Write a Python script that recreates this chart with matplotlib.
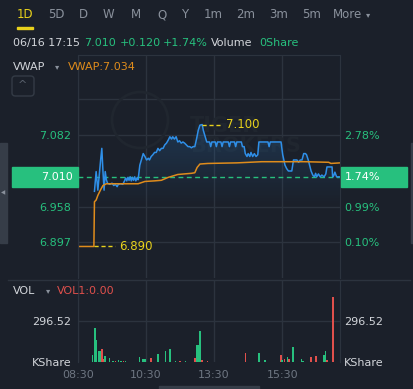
import matplotlib.pyplot as plt
import numpy as np
from matplotlib.patches import Rectangle, FancyBboxPatch, Polygon, Ellipse
from matplotlib.transforms import blended_transform_factory

# Colores del tema oscuro
fondo = '#1b202a'
rejilla = '#2c333e'
verde = '#27c07e'
rojo = '#e0504c'
azul = '#2f8fe8'
naranja = '#df8c1c'
amarillo = '#e8d11c'
gris = '#6e7682'
blanco = '#d3d6db'

# Datos (minutos desde las 08:30, con pausa de una hora al mediodía)
cierre_anterior = 6.890
precio_actual = 7.010
vwap_actual = 7.034
maximo = 7.100
minimo = 6.890

minutos_precio = [29, 32, 35, 38, 40, 42, 44, 46, 48, 50, 52, 56, 60, 63, 66, 69, 71, 75, 79, 82,
                  84, 86, 88, 90, 92, 94, 96, 98, 100, 102, 104, 106, 109, 112, 115, 118, 121, 124, 126, 129,
                  132, 135, 138, 141, 144, 147, 150, 153, 156, 159, 162, 165, 167, 170, 173, 176, 179, 182, 185, 188,
                  191, 194, 197, 200, 203, 206, 209, 212, 215, 219, 221, 224, 227, 232, 234, 236, 242, 244, 246, 252,
                  254, 256, 265, 267, 269, 276, 278, 280, 288, 290, 293, 295, 298, 300, 303, 305, 308, 311, 314, 317,
                  319, 335, 337, 339, 358, 361, 365, 368, 371, 377, 380, 386, 389, 392, 395, 398, 401, 403, 406, 411,
                  414, 417, 419, 421, 424, 427, 430, 434, 437, 439, 446, 448, 449, 451, 453, 456, 462]
precios = [6.985, 7.019, 6.987, 7.019, 7.040, 7.059, 7.020, 6.987, 7.019, 7.005, 6.999, 6.997, 6.999, 6.995, 6.997, 6.993, 6.997, 6.998, 6.997, 7.003,
           7.008, 7.003, 7.009, 7.004, 7.010, 7.003, 7.009, 7.004, 7.010, 7.003, 7.008, 7.005, 7.030, 7.040, 7.050, 7.045, 7.039, 7.042, 7.039, 7.045,
           7.048, 7.052, 7.052, 7.059, 7.055, 7.059, 7.059, 7.065, 7.068, 7.073, 7.079, 7.075, 7.079, 7.075, 7.079, 7.070, 7.072, 7.068, 7.070, 7.068,
           7.065, 7.062, 7.062, 7.060, 7.062, 7.062, 7.075, 7.090, 7.099, 7.100, 7.090, 7.080, 7.070, 7.070, 7.062, 7.070, 7.070, 7.062, 7.070, 7.070,
           7.062, 7.070, 7.070, 7.062, 7.070, 7.070, 7.062, 7.070, 7.070, 7.062, 7.062, 7.050, 7.045, 7.050, 7.045, 7.052, 7.045, 7.050, 7.045, 7.048,
           7.070, 7.070, 7.062, 7.070, 7.070, 7.048, 7.030, 7.024, 7.020, 7.020, 7.039, 7.039, 7.035, 7.039, 7.039, 7.050, 7.050, 7.048, 7.039, 7.020,
           7.013, 7.010, 7.016, 7.010, 7.015, 7.010, 7.013, 7.010, 7.015, 7.027, 7.027, 7.027, 7.010, 7.012, 7.018, 7.010, 7.010]

minutos_vwap = [0, 28, 29, 32, 35, 40, 44, 50, 106, 118, 135, 147, 159, 176, 200, 206, 210, 215, 229, 280,
                324, 400, 442, 446, 462]
vwap = [6.890, 6.890, 6.967, 6.970, 6.978, 6.988, 6.995, 6.998, 6.998, 7.002, 7.003, 7.004, 7.009, 7.014, 7.016, 7.017, 7.026, 7.032, 7.033, 7.034,
        7.036, 7.036, 7.035, 7.033, 7.034]

minutos_vol = [26, 30, 33, 36, 39, 42, 44, 48, 56, 62, 66, 71, 76, 80, 84, 108, 115, 118, 129, 141,
               154, 162, 172, 180, 190, 206, 210, 213, 215, 219, 228, 295, 319, 330, 358, 360, 364, 369, 372, 379,
               394, 397, 411, 420, 434, 436, 439, 450]
volumenes = [51, 246, 159, 80, 80, 94, 20, 43, 29, 10, 8, 12, 6, 10, 8, 36, 22, 22, 29, 58,
             80, 94, 10, 8, 8, 29, 123, 123, 224, 15, 10, 65, 65, 15, 51, 15, 22, 36, 22, 108,
             22, 10, 36, 43, 51, 80, 15, 470]
sube = [1, 1, 1, 1, 1, 0, 0, 1, 1, 1, 0, 1, 1, 0, 1, 1, 1, 1, 0, 1,
        1, 1, 1, 0, 1, 0, 1, 1, 1, 0, 0, 0, 1, 1, 0, 1, 0, 1, 0, 1,
        1, 1, 0, 0, 1, 1, 0, 0]

ticks_precio = [7.082, 6.958, 6.897]
etiquetas_precio = ['7.082', '6.958', '6.897']
etiquetas_pct = ['2.78%', '0.99%', '0.10%']
rejilla_precio = [7.144, 7.082, 6.958, 6.897]
ticks_tiempo = [0, 120, 240, 360]
etiquetas_tiempo = ['08:30', '10:30', '13:30', '15:30']
vol_ref = 296.52

pestanas = ['1D', '5D', 'D', 'W', 'M', 'Q', 'Y', '1m', '2m', '3m', '5m', 'More']
centros_pestanas = [25, 56, 83, 108, 136, 162, 185, 213, 246, 279, 312, 348]

W, H = 414, 389
def fx(px):
    return px / W
def fy(py):
    return 1 - py / H

fig = plt.figure(figsize=(W / 100, H / 100), dpi=100, facecolor=fondo)

ax = fig.add_axes([fx(78), fy(278), 262 / W, 223 / H], facecolor=fondo)
axv = fig.add_axes([fx(78), fy(362), 262 / W, 82 / H], facecolor=fondo)

xmax = 462
ylo, yhi = 6.8357, 7.2198

# ---- Panel de precio ----
ax.set_xlim(0, xmax)
ax.set_ylim(ylo, yhi)
for p in rejilla_precio:
    ax.axhline(p, color=rejilla, lw=1, zorder=0)
for t in ticks_tiempo:
    ax.axvline(t, color=rejilla, lw=1, zorder=0)

# marca de agua muy tenue
fig.add_artist(Ellipse((fx(140), fy(120)), 56 / W, 56 / H, transform=fig.transFigure,
                       facecolor='none', edgecolor='#20262f', lw=2, zorder=0.5))
ax.text(198, 7.080, 'TIGER\nBROKERS', color='#20262f', fontsize=15, fontweight='bold',
        va='center', ha='left', linespacing=1.0, zorder=0.5)

# relleno degradado bajo la línea de precio
verts = list(zip(minutos_precio, precios)) + [(minutos_precio[-1], ylo), (minutos_precio[0], ylo)]
poly = Polygon(verts, closed=True, facecolor='none', edgecolor='none')
ax.add_patch(poly)
grad = np.zeros((256, 1, 4))
grad[:, 0, :3] = (0.18, 0.56, 0.91)
grad[:, 0, 3] = np.linspace(0.2, 0.0, 256)
im = ax.imshow(grad, extent=[minutos_precio[0], minutos_precio[-1], 6.96, max(precios)],
               aspect='auto', origin='upper', zorder=1)
im.set_clip_path(poly)
ax.set_xlim(0, xmax)
ax.set_ylim(ylo, yhi)

ax.plot(minutos_precio, precios, color=azul, lw=1.1, zorder=3)
ax.plot(minutos_vwap, vwap, color=naranja, lw=1.1, zorder=4)
ax.axhline(precio_actual, color=verde, lw=1, ls=(0, (3.5, 2.5)), zorder=2)

# marcas de máximo y mínimo
i_max = int(np.argmax(precios))
m_max = minutos_precio[i_max]
ax.plot([m_max, m_max + 35], [maximo, maximo], color=amarillo, lw=1, ls=(0, (3, 2)), zorder=5)
ax.text(m_max + 42, maximo, f'{maximo:.3f}', color=amarillo, fontsize=8.5, va='center', ha='left', zorder=6)
m_min = minutos_precio[0]
ax.plot([m_min, m_min + 36], [minimo, minimo], color=amarillo, lw=1, ls=(0, (3, 2)), zorder=5)
ax.text(m_min + 44, minimo, f'{minimo:.3f}', color=amarillo, fontsize=8.5, va='center', ha='left', zorder=6)

ax.set_yticks(ticks_precio, etiquetas_precio)
ax.tick_params(axis='y', length=0, pad=5, labelcolor=verde, labelsize=8)
ax.set_xticks([])
ax2 = ax.twinx()
ax2.set_ylim(ylo, yhi)
ax2.set_yticks(ticks_precio, etiquetas_pct)
ax2.tick_params(axis='y', length=0, pad=3, labelcolor=verde, labelsize=8)
for a in (ax, ax2):
    for s in a.spines.values():
        s.set_color(rejilla)
    a.spines['bottom'].set_visible(False)

# cajas del precio actual (a la altura del precio en los datos)
tr = blended_transform_factory(fig.transFigure, ax.transData)
alto = 20 / 580.6
fig.add_artist(Rectangle((fx(12), precio_actual - alto / 2), 66 / W, alto, transform=tr, color=verde, zorder=6))
fig.add_artist(Rectangle((fx(341), precio_actual - alto / 2), 66 / W, alto, transform=tr, color=verde, zorder=6))
fig.text(fx(73), precio_actual, f'{precio_actual:.3f}', transform=tr, color='white', fontsize=8,
         ha='right', va='center', zorder=7)
fig.text(fx(345), precio_actual, f'{(precio_actual / cierre_anterior - 1) * 100:.2f}%', transform=tr,
         color='white', fontsize=8, ha='left', va='center', zorder=7)

# ---- Panel de volumen ----
axv.set_xlim(0, xmax)
axv.set_ylim(0, 593)
axv.axhline(vol_ref, color=rejilla, lw=1, zorder=0)
for t in ticks_tiempo:
    axv.axvline(t, color=rejilla, lw=1, zorder=0)
colores = [verde if s else rojo for s in sube]
axv.bar(minutos_vol, volumenes, width=2.6, color=colores, zorder=2)
axv.set_yticks([0, vol_ref], ['KShare', f'{vol_ref:.2f}'])
axv.tick_params(axis='y', length=0, pad=5, labelcolor=blanco, labelsize=8)
axv.set_xticks(ticks_tiempo, etiquetas_tiempo)
axv.tick_params(axis='x', length=0, pad=6, labelcolor=gris, labelsize=8)
axv2 = axv.twinx()
axv2.set_ylim(0, 593)
axv2.set_yticks([0, vol_ref], ['KShare', f'{vol_ref:.2f}'])
axv2.tick_params(axis='y', length=0, pad=3, labelcolor=blanco, labelsize=8)
for a in (axv, axv2):
    for s in a.spines.values():
        s.set_color(rejilla)
    a.spines['bottom'].set_visible(False)
    a.spines['top'].set_visible(False)

# separador entre paneles
fig.add_artist(plt.Line2D([fx(8), fx(410)], [fy(279.5), fy(279.5)], color=rejilla, lw=1))

# ---- Cabeceras ----
for nombre, cx in zip(pestanas, centros_pestanas):
    color = amarillo if nombre == '1D' else '#8a919c'
    fig.text(fx(cx), fy(15), nombre, color=color, fontsize=8.5, ha='center', va='center')
fig.text(fx(366), fy(15), '▾', color='#8a919c', fontsize=6, ha='left', va='center')
fig.add_artist(Rectangle((fx(17), fy(29)), 16 / W, 2 / H, color=amarillo))

fig.text(fx(13), fy(43), '06/16 17:15', color=blanco, fontsize=8, va='center')
fig.text(fx(84), fy(43), f'{precio_actual:.3f}', color=verde, fontsize=8, va='center')
fig.text(fx(120), fy(43), f'+{precio_actual - cierre_anterior:.3f}', color=verde, fontsize=8, va='center')
fig.text(fx(163), fy(43), f'+{(precio_actual / cierre_anterior - 1) * 100:.2f}%', color=verde, fontsize=8, va='center')
fig.text(fx(211), fy(43), 'Volume', color=blanco, fontsize=8, va='center')
fig.text(fx(259), fy(43), '0Share', color=verde, fontsize=8, va='center')

fig.text(fx(13), fy(67), 'VWAP', color=blanco, fontsize=8, va='center')
fig.text(fx(57), fy(67), '▾', color='#8a919c', fontsize=6, ha='center', va='center')
fig.text(fx(68), fy(67), f'VWAP:{vwap_actual:.3f}', color=naranja, fontsize=8, va='center')
fig.add_artist(FancyBboxPatch((fx(12), fy(96)), 22 / W, 20 / H, boxstyle='round,pad=0,rounding_size=0.008',
                              transform=fig.transFigure, facecolor='none', edgecolor='#343b46', lw=1))
fig.text(fx(23), fy(85), '^', color='#59616d', fontsize=8, ha='center', va='center')

fig.text(fx(13), fy(291), 'VOL', color=blanco, fontsize=8, va='center')
fig.text(fx(48), fy(291), '▾', color='#8a919c', fontsize=6, ha='center', va='center')
fig.text(fx(57), fy(291), 'VOL1:0.00', color=rojo, fontsize=8, va='center')

# barras laterales e inferior
fig.add_artist(Rectangle((0, fy(243)), 7 / W, 100 / H, color='#363d48'))
fig.text(fx(3.5), fy(193), '◀', color='#8a919c', fontsize=4, ha='center', va='center')
fig.add_artist(Rectangle((fx(411), fy(243)), 3 / W, 100 / H, color='#363d48'))
fig.add_artist(Rectangle((fx(159), 0), 100 / W, 3 / H, color='#363d48'))

fig.savefig('out.png', dpi=100, facecolor=fondo)
